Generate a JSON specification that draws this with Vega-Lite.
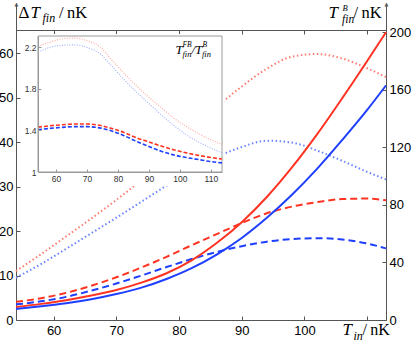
{
  "$schema": "https://vega.github.io/schema/vega-lite/v6.json",
  "width": 370,
  "height": 317,
  "autosize": "none",
  "padding": {"left": 16, "top": 3, "right": 29, "bottom": 24},
  "background": "white",
  "config": {
    "view": {"stroke": null},
    "axis": {"grid": false, "labelFont": "Liberation Sans", "titleFont": "Liberation Serif", "domainColor": "#555", "tickColor": "#555", "labelColor": "#000"}
  },
  "datasets": {
    "main": [
      {"T":54,"k":"rd","s":"dashed","v":4.1},{"T":58,"k":"rd","s":"dashed","v":4.9},{"T":62,"k":"rd","s":"dashed","v":6.1},{"T":66,"k":"rd","s":"dashed","v":7.7},{"T":70,"k":"rd","s":"dashed","v":9.6},{"T":74,"k":"rd","s":"dashed","v":11.8},{"T":78,"k":"rd","s":"dashed","v":14.2},{"T":82,"k":"rd","s":"dashed","v":16.8},{"T":86,"k":"rd","s":"dashed","v":19.3},{"T":90,"k":"rd","s":"dashed","v":21.8},{"T":94,"k":"rd","s":"dashed","v":24.0},{"T":98,"k":"rd","s":"dashed","v":25.5},{"T":102,"k":"rd","s":"dashed","v":26.5},{"T":106,"k":"rd","s":"dashed","v":27.2},{"T":110,"k":"rd","s":"dashed","v":27.3},{"T":113,"k":"rd","s":"dashed","v":26.9},
      {"T":54,"k":"bd","s":"dashed","v":3.5},{"T":58,"k":"bd","s":"dashed","v":4.2},{"T":62,"k":"bd","s":"dashed","v":5.2},{"T":66,"k":"bd","s":"dashed","v":6.6},{"T":70,"k":"bd","s":"dashed","v":8.2},{"T":74,"k":"bd","s":"dashed","v":10.0},{"T":78,"k":"bd","s":"dashed","v":11.9},{"T":82,"k":"bd","s":"dashed","v":13.7},{"T":86,"k":"bd","s":"dashed","v":15.3},{"T":90,"k":"bd","s":"dashed","v":16.6},{"T":94,"k":"bd","s":"dashed","v":17.6},{"T":98,"k":"bd","s":"dashed","v":18.2},{"T":102,"k":"bd","s":"dashed","v":18.4},{"T":106,"k":"bd","s":"dashed","v":18.1},{"T":110,"k":"bd","s":"dashed","v":17.2},{"T":113,"k":"bd","s":"dashed","v":16.1},
      {"T":54,"k":"ro","s":"dotted","v":11.0},{"T":58,"k":"ro","s":"dotted","v":14.8},{"T":62,"k":"ro","s":"dotted","v":18.8},{"T":66,"k":"ro","s":"dotted","v":22.8},{"T":70,"k":"ro","s":"dotted","v":27.0},{"T":74,"k":"ro","s":"dotted","v":31.5},{"T":78,"k":"ro","s":"dotted","v":36.5},{"T":82,"k":"ro","s":"dotted","v":42.0},{"T":86,"k":"ro","s":"dotted","v":47.8},{"T":90,"k":"ro","s":"dotted","v":52.5},{"T":94,"k":"ro","s":"dotted","v":56.5},{"T":98,"k":"ro","s":"dotted","v":59.2},{"T":102,"k":"ro","s":"dotted","v":59.8},{"T":106,"k":"ro","s":"dotted","v":58.8},{"T":110,"k":"ro","s":"dotted","v":56.6},{"T":113,"k":"ro","s":"dotted","v":54.6},
      {"T":54,"k":"bo","s":"dotted","v":9.5},{"T":58,"k":"bo","s":"dotted","v":12.6},{"T":62,"k":"bo","s":"dotted","v":16.0},{"T":66,"k":"bo","s":"dotted","v":19.5},{"T":70,"k":"bo","s":"dotted","v":23.0},{"T":74,"k":"bo","s":"dotted","v":26.6},{"T":78,"k":"bo","s":"dotted","v":30.2},{"T":82,"k":"bo","s":"dotted","v":33.5},{"T":86,"k":"bo","s":"dotted","v":36.6},{"T":90,"k":"bo","s":"dotted","v":38.9},{"T":94,"k":"bo","s":"dotted","v":40.3},{"T":98,"k":"bo","s":"dotted","v":39.9},{"T":102,"k":"bo","s":"dotted","v":38.1},{"T":106,"k":"bo","s":"dotted","v":35.8},{"T":110,"k":"bo","s":"dotted","v":33.3},{"T":113,"k":"bo","s":"dotted","v":31.6}
    ],
    "solid": [
      {"T":54,"c":"red","v":9.0},{"T":58,"c":"red","v":11.2},{"T":62,"c":"red","v":13.8},{"T":66,"c":"red","v":17.0},{"T":70,"c":"red","v":20.9},{"T":74,"c":"red","v":26.0},{"T":78,"c":"red","v":32.5},{"T":82,"c":"red","v":41.5},{"T":86,"c":"red","v":53.5},{"T":90,"c":"red","v":68.0},{"T":94,"c":"red","v":85.5},{"T":98,"c":"red","v":106.0},{"T":102,"c":"red","v":129.0},{"T":106,"c":"red","v":154.0},{"T":110,"c":"red","v":180.0},{"T":113,"c":"red","v":200.0},
      {"T":54,"c":"blue","v":7.7},{"T":58,"c":"blue","v":9.5},{"T":62,"c":"blue","v":11.6},{"T":66,"c":"blue","v":14.4},{"T":70,"c":"blue","v":18.0},{"T":74,"c":"blue","v":22.5},{"T":78,"c":"blue","v":28.5},{"T":82,"c":"blue","v":36.0},{"T":86,"c":"blue","v":45.5},{"T":90,"c":"blue","v":57.0},{"T":94,"c":"blue","v":71.0},{"T":98,"c":"blue","v":87.0},{"T":102,"c":"blue","v":105.0},{"T":106,"c":"blue","v":125.0},{"T":110,"c":"blue","v":146.0},{"T":113,"c":"blue","v":163.0}
    ],
    "inset": [
      {"T":54.2,"k":"ro","s":"dotted","v":2.21},{"T":58,"k":"ro","s":"dotted","v":2.25},{"T":62,"k":"ro","s":"dotted","v":2.283},{"T":66,"k":"ro","s":"dotted","v":2.29},{"T":70,"k":"ro","s":"dotted","v":2.265},{"T":74,"k":"ro","s":"dotted","v":2.21},{"T":78,"k":"ro","s":"dotted","v":2.08},{"T":82,"k":"ro","s":"dotted","v":1.95},{"T":86,"k":"ro","s":"dotted","v":1.83},{"T":90,"k":"ro","s":"dotted","v":1.72},{"T":94,"k":"ro","s":"dotted","v":1.62},{"T":98,"k":"ro","s":"dotted","v":1.52},{"T":102,"k":"ro","s":"dotted","v":1.44},{"T":106,"k":"ro","s":"dotted","v":1.37},{"T":110,"k":"ro","s":"dotted","v":1.31},{"T":113.6,"k":"ro","s":"dotted","v":1.265},
      {"T":54.2,"k":"bo","s":"dotted","v":2.155},{"T":58,"k":"bo","s":"dotted","v":2.2},{"T":62,"k":"bo","s":"dotted","v":2.22},{"T":66,"k":"bo","s":"dotted","v":2.225},{"T":70,"k":"bo","s":"dotted","v":2.2},{"T":74,"k":"bo","s":"dotted","v":2.145},{"T":78,"k":"bo","s":"dotted","v":2.02},{"T":82,"k":"bo","s":"dotted","v":1.89},{"T":86,"k":"bo","s":"dotted","v":1.77},{"T":90,"k":"bo","s":"dotted","v":1.66},{"T":94,"k":"bo","s":"dotted","v":1.55},{"T":98,"k":"bo","s":"dotted","v":1.45},{"T":102,"k":"bo","s":"dotted","v":1.36},{"T":106,"k":"bo","s":"dotted","v":1.29},{"T":110,"k":"bo","s":"dotted","v":1.23},{"T":113.6,"k":"bo","s":"dotted","v":1.185},
      {"T":54.2,"k":"rd","s":"dashed","v":1.432},{"T":58,"k":"rd","s":"dashed","v":1.445},{"T":62,"k":"rd","s":"dashed","v":1.455},{"T":66,"k":"rd","s":"dashed","v":1.462},{"T":70,"k":"rd","s":"dashed","v":1.462},{"T":74,"k":"rd","s":"dashed","v":1.45},{"T":78,"k":"rd","s":"dashed","v":1.42},{"T":82,"k":"rd","s":"dashed","v":1.38},{"T":86,"k":"rd","s":"dashed","v":1.33},{"T":90,"k":"rd","s":"dashed","v":1.29},{"T":94,"k":"rd","s":"dashed","v":1.25},{"T":98,"k":"rd","s":"dashed","v":1.215},{"T":102,"k":"rd","s":"dashed","v":1.185},{"T":106,"k":"rd","s":"dashed","v":1.16},{"T":110,"k":"rd","s":"dashed","v":1.14},{"T":113.6,"k":"rd","s":"dashed","v":1.125},
      {"T":54.2,"k":"bd","s":"dashed","v":1.406},{"T":58,"k":"bd","s":"dashed","v":1.42},{"T":62,"k":"bd","s":"dashed","v":1.43},{"T":66,"k":"bd","s":"dashed","v":1.437},{"T":70,"k":"bd","s":"dashed","v":1.437},{"T":74,"k":"bd","s":"dashed","v":1.425},{"T":78,"k":"bd","s":"dashed","v":1.395},{"T":82,"k":"bd","s":"dashed","v":1.35},{"T":86,"k":"bd","s":"dashed","v":1.295},{"T":90,"k":"bd","s":"dashed","v":1.245},{"T":94,"k":"bd","s":"dashed","v":1.2},{"T":98,"k":"bd","s":"dashed","v":1.165},{"T":102,"k":"bd","s":"dashed","v":1.14},{"T":106,"k":"bd","s":"dashed","v":1.12},{"T":110,"k":"bd","s":"dashed","v":1.1},{"T":113.6,"k":"bd","s":"dashed","v":1.088}
    ],
    "box": [
      {"kind":"bg","x0":49.7,"x1":114.4,"y0":0.865,"y1":2.33},
      {"kind":"frame","x0":54.2,"x1":113.6,"y0":1,"y1":2.31}
    ]
  },
  "layer": [
    {
      "data": {"name": "main"},
      "mark": {"type": "line", "interpolate": "monotone", "strokeWidth": 2},
      "encoding": {
        "x": {"field": "T", "type": "quantitative", "scale": {"domain": [54, 113], "nice": false, "zero": false},
          "axis": {"orient": "bottom", "values": [60,70,80,90,100,110], "labelExpr": "datum.value == 110 ? '' : datum.label", "tickSize": -4, "labelPadding": 8, "labelFontSize": 13, "title": null}},
        "y": {"field": "v", "type": "quantitative", "scale": {"domain": [0, 71.27], "nice": false, "zero": false},
          "axis": {"orient": "left", "values": [0,10,20,30,40,50,60], "tickSize": -4, "labelPadding": 7, "labelFontSize": 13, "title": null}},
        "color": {"field": "k", "type": "nominal", "scale": {"domain": ["rd","bd","ro","bo"], "range": ["#ff3322","#1f3fff","#ff7d70","#6a84ff"]}, "legend": null},
        "strokeDash": {"field": "s", "type": "nominal", "scale": {"domain": ["dashed","dotted"], "range": [[7,4],[1.5,2.5]]}, "legend": null}
      }
    },
    {
      "data": {"name": "solid"},
      "mark": {"type": "line", "interpolate": "monotone", "strokeWidth": 2},
      "encoding": {
        "x": {"field": "T", "type": "quantitative", "scale": {"domain": [54, 113], "nice": false, "zero": false},
          "axis": {"orient": "top", "offset": -27, "values": [60,70,80,90,100,110], "labels": false, "tickSize": -4, "title": null}},
        "y": {"field": "v", "type": "quantitative", "scale": {"domain": [0, 220.3], "nice": false, "zero": false},
          "axis": {"orient": "right", "values": [0,40,80,120,160,200], "tickSize": -4, "labelPadding": 7, "labelFontSize": 13, "title": null}},
        "color": {"field": "c", "type": "nominal", "scale": {"domain": ["red","blue"], "range": ["#ff3322","#1f3fff"]}, "legend": null}
      }
    },
    {
      "data": {"name": "box"},
      "transform": [{"filter": "datum.kind == 'bg'"}],
      "mark": {"type": "rect", "fill": "white"},
      "encoding": {
        "x": {"field": "x0", "type": "quantitative", "scale": {"domain": [54.2, 113.6], "range": [22, 206], "nice": false, "zero": false},
          "axis": {"orient": "bottom", "labels": false, "ticks": false, "domain": false, "zindex": 1, "title": "T", "titleX": 326, "titleY": 14.5, "titleAngle": 0, "titleAlign": "left", "titleBaseline": "alphabetic", "titleFontSize": 17, "titleFontStyle": "italic", "titleFontWeight": "normal", "titleColor": "#000"}},
        "x2": {"field": "x1"},
        "y": {"field": "y0", "type": "quantitative", "scale": {"domain": [1, 2.31], "range": [169, 33], "nice": false, "zero": false},
          "axis": {"orient": "left", "labels": false, "ticks": false, "domain": false, "zindex": 1, "title": "Δ", "titleX": 2, "titleY": 14.5, "titleAngle": 0, "titleAlign": "left", "titleBaseline": "alphabetic", "titleFontSize": 17, "titleFontStyle": "normal", "titleFontWeight": "normal", "titleColor": "#000"}},
        "y2": {"field": "y1"}
      }
    },
    {
      "data": {"name": "box"},
      "transform": [{"filter": "datum.kind == 'frame'"}],
      "mark": {"type": "rect", "fillOpacity": 0, "stroke": "#9a9a9a", "strokeWidth": 1},
      "encoding": {
        "x": {"field": "x0", "type": "quantitative", "scale": {"domain": [54.2, 113.6], "range": [22, 206], "nice": false, "zero": false},
          "axis": {"orient": "bottom", "labels": false, "ticks": false, "domain": false, "zindex": 1, "title": "in", "titleX": 337, "titleY": 19, "titleAngle": 0, "titleAlign": "left", "titleBaseline": "alphabetic", "titleFontSize": 12, "titleFontStyle": "italic", "titleFontWeight": "normal", "titleColor": "#000"}},
        "x2": {"field": "x1"},
        "y": {"field": "y0", "type": "quantitative", "scale": {"domain": [1, 2.31], "range": [169, 33], "nice": false, "zero": false},
          "axis": {"orient": "left", "labels": false, "ticks": false, "domain": false, "zindex": 1, "title": "T", "titleX": 14, "titleY": 14.5, "titleAngle": 0, "titleAlign": "left", "titleBaseline": "alphabetic", "titleFontSize": 17, "titleFontStyle": "italic", "titleFontWeight": "normal", "titleColor": "#000"}},
        "y2": {"field": "y1"}
      }
    },
    {
      "data": {"name": "inset"},
      "mark": {"type": "line", "interpolate": "monotone"},
      "encoding": {
        "x": {"field": "T", "type": "quantitative", "scale": {"domain": [54.2, 113.6], "range": [22, 206], "nice": false, "zero": false},
          "axis": {"orient": "bottom", "offset": -148, "values": [60,70,80,90,100,110], "tickSize": -3, "labelPadding": 5, "labelFontSize": 8.5, "labelColor": "#333", "domainColor": "#9a9a9a", "tickColor": "#9a9a9a", "zindex": 1, "title": null}},
        "y": {"field": "v", "type": "quantitative", "scale": {"domain": [1, 2.31], "range": [169, 33], "nice": false, "zero": false},
          "axis": {"orient": "left", "offset": -22, "values": [1,1.4,1.8,2.2], "format": "~g", "tickSize": -3, "labelPadding": 5, "labelFontSize": 8.5, "labelColor": "#333", "domainColor": "#9a9a9a", "tickColor": "#9a9a9a", "zindex": 1, "title": null}},
        "color": {"field": "k", "type": "nominal", "scale": {"domain": ["rd","bd","ro","bo"], "range": ["#ff3322","#1f3fff","#ffa59c","#9fb0ff"]}, "legend": null},
        "strokeDash": {"field": "s", "type": "nominal", "scale": {"domain": ["dashed","dotted"], "range": [[4,2],[1,1.5]]}, "legend": null},
        "strokeWidth": {"field": "s", "type": "ordinal", "scale": {"domain": ["dashed","dotted"], "range": [1.6, 1.1]}, "legend": null}
      }
    },
    {
      "data": {"name": "solid"},
      "mark": {"type": "point", "opacity": 0},
      "encoding": {
        "x": {"field": "T", "type": "quantitative", "axis": {"orient": "bottom", "labels": false, "ticks": false, "domain": false, "zindex": 1, "title": "/\u2009nK", "titleX": 346, "titleY": 14.5, "titleAngle": 0, "titleAlign": "left", "titleBaseline": "alphabetic", "titleFontSize": 16, "titleFontStyle": "normal", "titleFontWeight": "normal", "titleColor": "#000"}},
        "y": {"field": "v", "type": "quantitative", "axis": {"orient": "left", "labels": false, "ticks": false, "domain": false, "zindex": 1, "title": "fin", "titleX": 26, "titleY": 18.5, "titleAngle": 0, "titleAlign": "left", "titleBaseline": "alphabetic", "titleFontSize": 12, "titleFontStyle": "italic", "titleFontWeight": "normal", "titleColor": "#000"}}
      }
    },
    {
      "data": {"name": "solid"},
      "mark": {"type": "point", "opacity": 0},
      "encoding": {
        "x": {"field": "T", "type": "quantitative", "axis": {"orient": "bottom", "labels": false, "ticks": false, "domain": false, "zindex": 1, "title": "FB", "titleX": 166, "titleY": -273.5, "titleAngle": 0, "titleAlign": "left", "titleBaseline": "alphabetic", "titleFontSize": 7.5, "titleFontStyle": "italic", "titleFontWeight": "normal", "titleColor": "#000"}},
        "y": {"field": "v", "type": "quantitative", "axis": {"orient": "left", "labels": false, "ticks": false, "domain": false, "zindex": 1, "title": "/\u2009nK", "titleX": 42.5, "titleY": 14.5, "titleAngle": 0, "titleAlign": "left", "titleBaseline": "alphabetic", "titleFontSize": 16.5, "titleFontStyle": "normal", "titleFontWeight": "normal", "titleColor": "#000"}}
      }
    },
    {
      "data": {"name": "solid"},
      "mark": {"type": "point", "opacity": 0},
      "encoding": {
        "x": {"field": "T", "type": "quantitative", "axis": {"orient": "bottom", "labels": false, "ticks": false, "domain": false, "zindex": 1, "title": "fin", "titleX": 166, "titleY": -263.5, "titleAngle": 0, "titleAlign": "left", "titleBaseline": "alphabetic", "titleFontSize": 8.5, "titleFontStyle": "italic", "titleFontWeight": "normal", "titleColor": "#000"}},
        "y": {"field": "v", "type": "quantitative", "axis": {"orient": "left", "labels": false, "ticks": false, "domain": false, "zindex": 1, "title": "T", "titleX": 312, "titleY": 14.5, "titleAngle": 0, "titleAlign": "left", "titleBaseline": "alphabetic", "titleFontSize": 17, "titleFontStyle": "italic", "titleFontWeight": "normal", "titleColor": "#000"}}
      }
    },
    {
      "data": {"name": "solid"},
      "mark": {"type": "point", "opacity": 0},
      "encoding": {
        "x": {"field": "T", "type": "quantitative", "axis": {"orient": "bottom", "labels": false, "ticks": false, "domain": false, "zindex": 1, "title": "/T", "titleX": 175, "titleY": -267, "titleAngle": 0, "titleAlign": "left", "titleBaseline": "alphabetic", "titleFontSize": 13, "titleFontStyle": "italic", "titleFontWeight": "normal", "titleColor": "#000"}},
        "y": {"field": "v", "type": "quantitative", "axis": {"orient": "left", "labels": false, "ticks": false, "domain": false, "zindex": 1, "title": "B", "titleX": 326, "titleY": 7, "titleAngle": 0, "titleAlign": "left", "titleBaseline": "alphabetic", "titleFontSize": 8.5, "titleFontStyle": "italic", "titleFontWeight": "normal", "titleColor": "#000"}}
      }
    },
    {
      "data": {"name": "solid"},
      "mark": {"type": "point", "opacity": 0},
      "encoding": {
        "x": {"field": "T", "type": "quantitative", "axis": {"orient": "bottom", "labels": false, "ticks": false, "domain": false, "zindex": 1, "title": "B", "titleX": 186, "titleY": -273.5, "titleAngle": 0, "titleAlign": "left", "titleBaseline": "alphabetic", "titleFontSize": 7.5, "titleFontStyle": "italic", "titleFontWeight": "normal", "titleColor": "#000"}},
        "y": {"field": "v", "type": "quantitative", "axis": {"orient": "left", "labels": false, "ticks": false, "domain": false, "zindex": 1, "title": "fin", "titleX": 325.5, "titleY": 19.5, "titleAngle": 0, "titleAlign": "left", "titleBaseline": "alphabetic", "titleFontSize": 11.5, "titleFontStyle": "italic", "titleFontWeight": "normal", "titleColor": "#000"}}
      }
    },
    {
      "data": {"name": "solid"},
      "mark": {"type": "point", "opacity": 0},
      "encoding": {
        "x": {"field": "T", "type": "quantitative", "axis": {"orient": "bottom", "labels": false, "ticks": false, "domain": false, "zindex": 1, "title": "fin", "titleX": 185.5, "titleY": -263.5, "titleAngle": 0, "titleAlign": "left", "titleBaseline": "alphabetic", "titleFontSize": 8.5, "titleFontStyle": "italic", "titleFontWeight": "normal", "titleColor": "#000"}},
        "y": {"field": "v", "type": "quantitative", "axis": {"orient": "left", "labels": false, "ticks": false, "domain": false, "zindex": 1, "title": "/\u2009nK", "titleX": 337, "titleY": 14.5, "titleAngle": 0, "titleAlign": "left", "titleBaseline": "alphabetic", "titleFontSize": 16.5, "titleFontStyle": "normal", "titleFontWeight": "normal", "titleColor": "#000"}}
      }
    },
    {
      "data": {"name": "solid"},
      "mark": {"type": "point", "opacity": 0},
      "encoding": {
        "x": {"field": "T", "type": "quantitative", "axis": {"orient": "bottom", "labels": false, "ticks": false, "domain": false, "zindex": 1, "title": "▲", "titleX": 0, "titleY": -314.5, "titleAngle": 0, "titleAlign": "center", "titleBaseline": "alphabetic", "titleFont": "DejaVu Sans", "titleFontSize": 5, "titleFontStyle": "normal", "titleFontWeight": "normal", "titleColor": "#555"}},
        "y": {"field": "v", "type": "quantitative", "axis": {"orient": "left", "labels": false, "ticks": false, "domain": false, "zindex": 1, "title": "T", "titleX": 159, "titleY": 50, "titleAngle": 0, "titleAlign": "left", "titleBaseline": "alphabetic", "titleFontSize": 13, "titleFontStyle": "italic", "titleFontWeight": "normal", "titleColor": "#000"}}
      }
    },
    {
      "data": {"name": "solid"},
      "mark": {"type": "point", "opacity": 0},
      "encoding": {
        "x": {"field": "T", "type": "quantitative", "axis": {"orient": "bottom", "labels": false, "ticks": false, "domain": false, "zindex": 1, "title": "▲", "titleX": 370, "titleY": -314.5, "titleAngle": 0, "titleAlign": "center", "titleBaseline": "alphabetic", "titleFont": "DejaVu Sans", "titleFontSize": 5, "titleFontStyle": "normal", "titleFontWeight": "normal", "titleColor": "#555"}},
        "y": {"field": "v", "type": "quantitative", "axis": null}
      }
    }
  ],
  "resolve": {"scale": {"x": "independent", "y": "independent", "color": "independent", "strokeDash": "independent", "strokeWidth": "independent"}}
}
